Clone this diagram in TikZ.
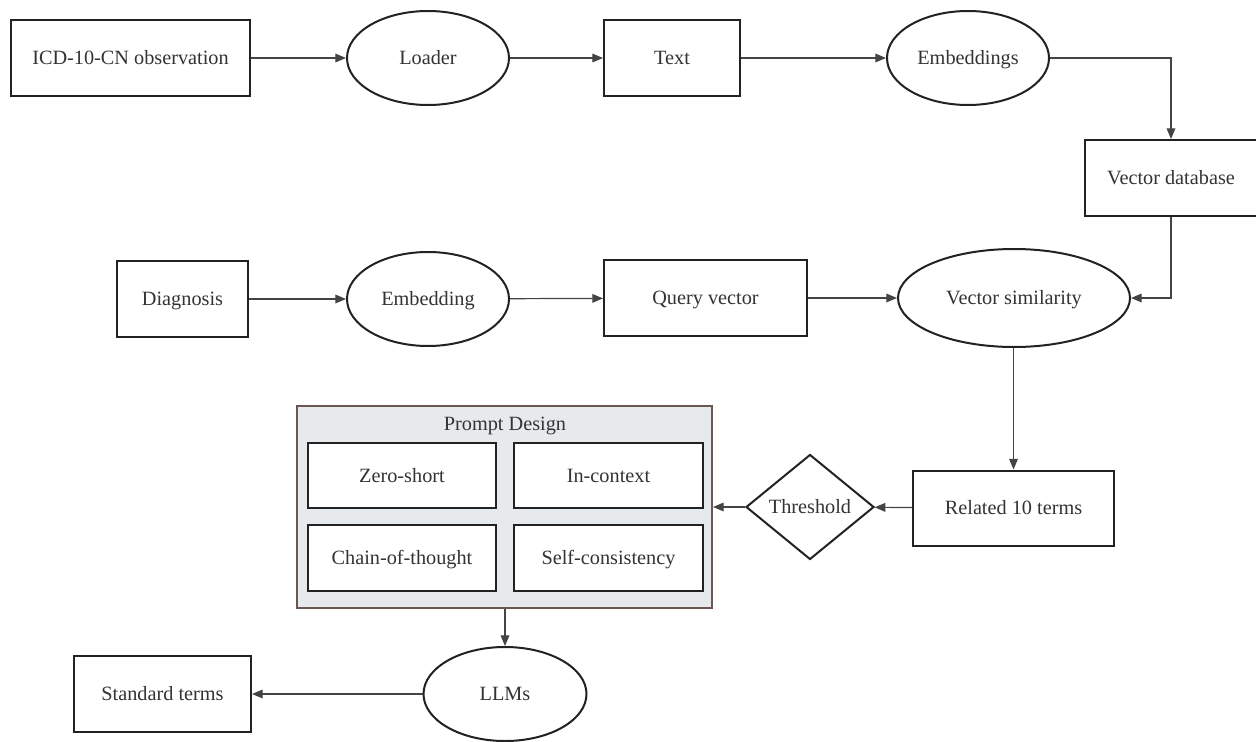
\documentclass[tikz,border=0pt]{standalone}
\usepackage{fontspec}
\setmainfont{Liberation Serif}
\usetikzlibrary{shapes.geometric,arrows.meta}
\definecolor{ink}{HTML}{222222}
\definecolor{txt}{HTML}{333333}
\definecolor{edge}{HTML}{444444}
\definecolor{clfill}{HTML}{E7EAED}
\definecolor{cldraw}{HTML}{6B5652}
\newcommand\zwlabel[1]{\makebox[0pt]{#1}}
\tikzset{
  sz/.style 2 args={minimum width=#1*0.75pt, minimum height=#2*0.75pt},
  base/.style={draw=ink, line width=1.5pt, fill=white, inner sep=0pt, text=txt,
    font=\fontsize{15.2}{18}\selectfont, text height=12pt, text depth=2.2pt},
  boxn/.style={base, rectangle},
  ell/.style={base, ellipse},
  dia/.style={base, diamond},
  clus/.style={rectangle, draw=cldraw, fill=clfill, line width=1.5pt, inner sep=0pt},
  lbl/.style={text=txt, inner sep=0pt, font=\fontsize{15.2}{18}\selectfont, text height=12pt, text depth=2.2pt},
  conn/.style={draw=edge, line width=0.9pt, -{Triangle[length=8pt,width=6.5pt]}}
}
\begin{document}
\begin{tikzpicture}[x=0.75pt,y=-0.75pt]
\useasboundingbox (0,0) rectangle (1256,742);
% row 1
\node[boxn, sz={239}{76}] (icd) at (130.5,58) {ICD-10-CN observation};
\node[ell, sz={162}{94}] (loader) at (428,58) {\zwlabel{Loader}};
\node[boxn, sz={136}{76}] (text) at (672,58) {Text};
\node[ell, sz={162}{94}] (emb) at (968,58) {\zwlabel{Embeddings}};
\node[boxn, sz={172}{76}] (vdb) at (1171,178) {Vector database};
% row 2
\node[boxn, sz={131}{76}] (diag) at (182.5,299) {Diagnosis};
\node[ell, sz={162}{94}] (embd) at (428,299) {\zwlabel{Embedding}};
\node[boxn, sz={203}{76}] (qv) at (705.5,298) {Query vector};
\node[ell, sz={232}{98}] (vs) at (1014,298) {\zwlabel{Vector similarity}};
% row 3
\node[boxn, sz={201}{75}] (rel) at (1013.5,508) {Related 10 terms};
\node[dia, sz={128}{105}] (thr) at (810,507) {\zwlabel{Threshold}};
\node[clus, sz={415}{202}] (pd) at (504.5,507) {};
\node[lbl] (pdt) at (505,424) {Prompt Design};
\node[boxn, sz={188}{65}] (zs) at (402,475.5) {Zero-short};
\node[boxn, sz={189}{65}] (ic) at (608.5,475.5) {In-context};
\node[boxn, sz={188}{66}] (cot) at (402,558) {Chain-of-thought};
\node[boxn, sz={189}{66}] (sc) at (608.5,558) {Self-consistency};
% row 4
\node[ell, sz={163}{94}] (llm) at (505,694) {\zwlabel{LLMs}};
\node[boxn, sz={177}{76}] (std) at (162.5,694) {Standard terms};
% connectors
\draw[conn] (icd) -- (loader);
\draw[conn] (loader) -- (text);
\draw[conn] (text) -- (emb);
\draw[conn] (emb.east) -| (vdb.north);
\draw[conn] (vdb.south) |- (vs.east);
\draw[conn] (diag) -- (embd);
\draw[conn] (embd) -- (qv);
\draw[conn] (qv) -- (vs);
\draw[conn] (vs.south -| rel.north) -- (rel.north);
\draw[conn] (rel) -- (thr);
\draw[conn] (thr.west) -- (thr.west -| pd.east);
\draw[conn] (pd.south -| llm.north) -- (llm.north);
\draw[conn] (llm) -- (std);
\end{tikzpicture}
\end{document}
